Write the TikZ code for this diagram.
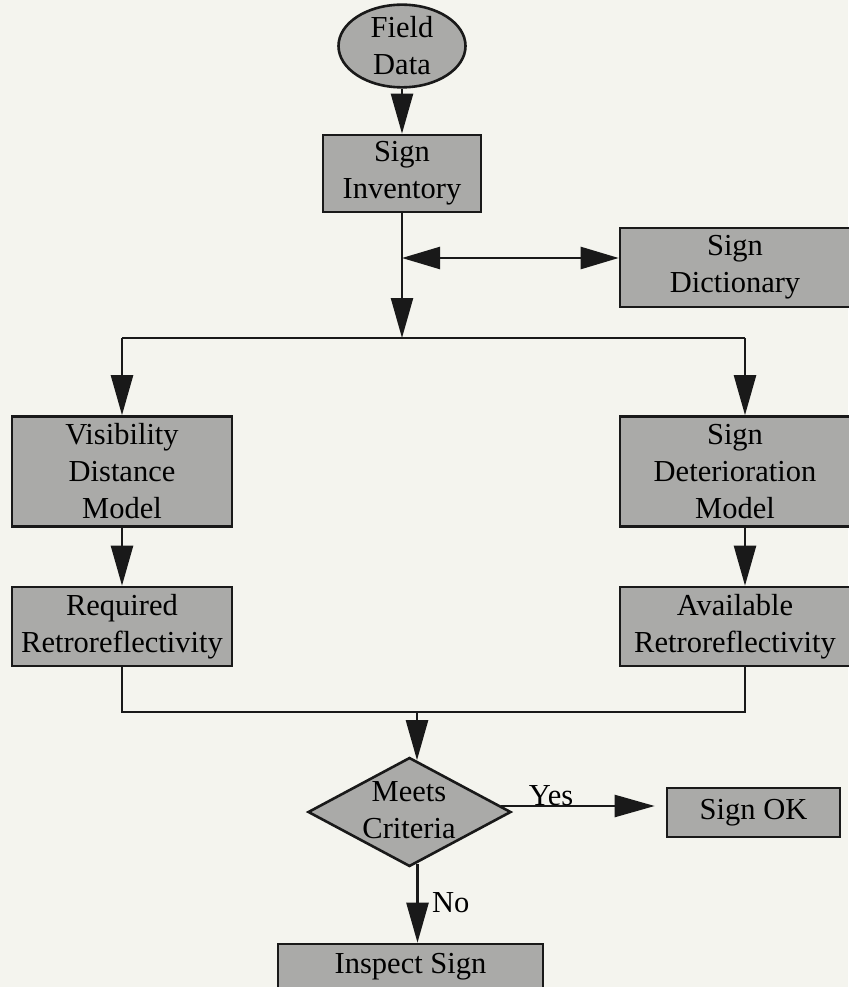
\documentclass[tikz,border=0pt]{standalone}
\usepackage{fontspec}
\setmainfont{Liberation Serif}
\usetikzlibrary{arrows.meta,shapes.geometric}
\definecolor{bgc}{RGB}{244,244,238}
\definecolor{boxc}{RGB}{170,170,168}
\tikzset{
  txt/.style={font=\fontsize{30.5}{37}\selectfont, align=center, text=black},
  pbox/.style={txt, draw=black!90, line width=2.6pt, fill=boxc, rectangle, inner sep=0pt},
  conn/.style={draw=black!90, line width=2.4pt},
  arr/.style={conn, -{Triangle[length=40pt,width=22pt]}},
  arrtwo/.style={conn, {Triangle[length=38pt,width=22pt]}-{Triangle[length=38pt,width=22pt]}},
  lbl/.style={font=\fontsize{30.5}{37}\selectfont, text=black, inner sep=0pt}
}
\begin{document}
\begin{tikzpicture}[x=1pt,y=-1pt]
\useasboundingbox (0,0) rectangle (848,987);
\fill[bgc] (0,0) rectangle (848,987);

% nodes
\node[txt, ellipse, draw=black!90, line width=2.6pt, fill=boxc, inner sep=0pt,
      minimum width=127pt, minimum height=74pt] (field) at (402,46) {Field\\Data};
\node[pbox, minimum width=158pt, minimum height=77pt] (inv) at (402,173.5) {Sign\\Inventory};
\node[pbox, minimum width=230pt, minimum height=79pt] (dict) at (735,267.5) {Sign\\Dictionary};
\node[pbox, minimum width=220pt, minimum height=110pt] (vis) at (122,471.5) {Visibility\\Distance\\Model};
\node[pbox, minimum width=220pt, minimum height=79pt] (req) at (122,626.5) {Required\\Retroreflectivity};
\node[pbox, minimum width=230pt, minimum height=110pt] (det) at (735,471.5) {Sign\\Deterioration\\Model};
\node[pbox, minimum width=230pt, minimum height=79pt] (avail) at (735,626.5) {Available\\Retroreflectivity};
\node[diamond, draw=black!90, line width=2.6pt, fill=boxc, inner sep=0pt,
      minimum width=203pt, minimum height=109pt] (d) at (409.5,812) {};
\node[txt, inner sep=0pt] (dtext) at (409,810) {Meets\\Criteria};
\node[pbox, minimum width=173pt, minimum height=49pt] (ok) at (753.5,812.5) {Sign OK};
\node[pbox, minimum width=265pt, minimum height=46pt] (insp) at (410.5,967) {Inspect Sign};

% junction coordinates
\coordinate (j0) at (402,258);
\coordinate (j1) at (402,338);
\coordinate (jl) at (122,338);
\coordinate (jr) at (745,338);
\coordinate (bl) at (122,712);
\coordinate (br) at (745,712);
\coordinate (jb) at (417,712);

% connectors
\draw[arr] (field.south) -- (inv.north);
\draw[arr] (inv.south) -- (j1);
\draw[arrtwo] (j0) -- (j0 -| dict.west);
\draw[conn] (jl) -- (jr);
\draw[arr] (jl) -- (jl |- vis.north);
\draw[arr] (jr) -- (jr |- det.north);
\draw[arr] (vis.south) -- (req.north);
\draw[arr] ([xshift=10pt]det.south) -- ([xshift=10pt]avail.north);
\draw[conn] (req.south) -- (bl) -- (br) -- (br |- avail.south);
\draw[arr] (jb) -- ([yshift=-4pt]jb |- d.north);
\draw[arr] ([xshift=-11pt,yshift=6pt]d.east) -- ([xshift=-11pt,yshift=6pt]d.east -| ok.west);
\node[lbl, anchor=base] (yeslbl) at (551,805) {Yes};
\draw[arr] ([xshift=8pt,yshift=4pt]d.south) -- ([xshift=8pt]d.south |- insp.north);
\node[lbl, anchor=base west] (nolbl) at (432,912) {No};
\end{tikzpicture}
\end{document}
